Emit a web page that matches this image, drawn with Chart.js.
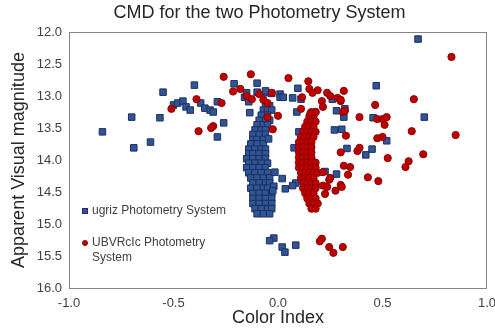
<!DOCTYPE html>
<html>
<head>
<meta charset="utf-8">
<script src="https://cdn.jsdelivr.net/npm/chart.js@4.4.1/dist/chart.umd.min.js"></script>
<style>
    html, body { margin: 0; padding: 0; background: #fff; }
    #wrap { position: relative; width: 495px; height: 331px; font-family: "Liberation Sans", Arial, sans-serif; }
    #chartTitle { position: absolute; top: 3px; left: 259.5px; transform: translateX(-50%); font-size: 18px; line-height: 18px; color: #262626; white-space: nowrap; }
    .lg-text { position: absolute; left: 92px; font-size: 12px; line-height: 15px; color: #404040; width: 140px; }
    .lg-mark { position: absolute; box-sizing: border-box; }
</style>
</head>
<body>
<div id="wrap">
    <canvas id="cmdChart" width="495" height="331"></canvas>
    <div id="chartTitle">CMD for the two Photometry System</div>
    <div class="lg-mark" style="left:82px; top:208px; width:6px; height:6px; background:#2F5597; border:1px solid #1F2F5F;"></div>
    <div class="lg-text" style="top:203px;">ugriz Photometry System</div>
    <div class="lg-mark" style="left:82px; top:240px; width:6px; height:6px; border-radius:50%; background:#C00000; border:1px solid #8B0000;"></div>
    <div class="lg-text" style="top:235px;">UBVRcIc Photometry System</div>
</div>
<script>
// --- Datos (índice de color, magnitud) ---
const xTicks = [-1.0, -0.5, 0.0, 0.5, 1.0];
const yTicks = [12.0, 12.5, 13.0, 13.5, 14.0, 14.5, 15.0, 15.5, 16.0];

// ugriz: estrellas dispersas
const ugrizScatter = [
    [0.67, 12.11], [-0.40, 12.83], [-0.21, 12.81], [-0.10, 12.80], [0.47, 12.84], [-0.55, 12.94],
    [-0.50, 13.14], [-0.48, 13.11], [-0.455, 13.08], [-0.44, 13.17], [-0.42, 13.22],
    [-0.37, 13.11], [-0.35, 13.19], [-0.325, 13.22], [-0.31, 13.25], [-0.29, 13.09],
    [-0.16, 13.02], [-0.15, 12.95], [-0.10, 12.94], [-0.055, 12.95], [-0.06, 12.92], [-0.03, 12.96],
    [0.01, 12.97], [0.01, 13.02], [0.025, 13.02], [0.095, 12.88], [0.07, 13.03], [0.11, 13.05], [0.26, 13.05],
    [-0.14, 13.09], [-0.135, 13.26],
    [-0.70, 13.33], [-0.565, 13.34], [-0.26, 13.42], [-0.84, 13.56], [-0.29, 13.64], [-0.61, 13.72], [-0.69, 13.81],
    [0.09, 13.25], [0.28, 13.23], [0.32, 13.20], [0.315, 13.33], [0.455, 13.34], [0.70, 13.33],
    [0.27, 13.53], [0.305, 13.52], [0.10, 13.56], [0.52, 13.70], [-0.045, 13.67],
    [0.33, 13.82], [0.45, 13.83], [0.42, 13.92], [0.077, 13.81],
    [0.225, 14.18], [0.28, 14.22], [0.085, 14.36], [0.07, 14.40], [0.035, 14.45], [0.02, 14.29],
    [-0.015, 14.19], [-0.02, 14.41], [-0.025, 14.48],
    [-0.02, 15.22], [-0.04, 15.26], [0.02, 15.36], [0.033, 15.44], [0.085, 15.33]
];

// ugriz: secuencia principal (banda densa)
const ugrizSequence = [
    [-0.06, 13.15], [-0.04, 13.15], [-0.07, 13.22], [-0.05, 13.22], [-0.03, 13.22], [-0.08, 13.30], [-0.05, 13.30],
    [-0.09, 13.38], [-0.06, 13.38], [-0.04, 13.38], [-0.10, 13.45], [-0.07, 13.45], [-0.05, 13.45],
    [-0.11, 13.53], [-0.08, 13.53], [-0.06, 13.53], [-0.12, 13.60], [-0.09, 13.60], [-0.06, 13.60],
    [-0.12, 13.68], [-0.10, 13.68], [-0.07, 13.68], [-0.13, 13.75], [-0.10, 13.75], [-0.07, 13.75],
    [-0.14, 13.83], [-0.11, 13.83], [-0.08, 13.83], [-0.06, 13.83],
    [-0.14, 13.90], [-0.12, 13.90], [-0.09, 13.90], [-0.06, 13.90],
    [-0.15, 13.98], [-0.12, 13.98], [-0.09, 13.98], [-0.06, 13.98],
    [-0.14, 14.05], [-0.11, 14.05], [-0.08, 14.05], [-0.05, 14.05],
    [-0.15, 14.12], [-0.12, 14.12], [-0.09, 14.12], [-0.06, 14.12],
    [-0.14, 14.20], [-0.11, 14.20], [-0.08, 14.20], [-0.05, 14.20],
    [-0.13, 14.28], [-0.10, 14.28], [-0.07, 14.28], [-0.04, 14.28],
    [-0.12, 14.36], [-0.09, 14.36], [-0.06, 14.36], [-0.04, 14.36],
    [-0.13, 14.44], [-0.10, 14.44], [-0.07, 14.44], [-0.05, 14.44],
    [-0.12, 14.52], [-0.09, 14.52], [-0.06, 14.52], [-0.03, 14.52],
    [-0.12, 14.60], [-0.09, 14.60], [-0.06, 14.60], [-0.03, 14.60],
    [-0.12, 14.68], [-0.09, 14.68], [-0.06, 14.68], [-0.03, 14.68],
    [-0.11, 14.76], [-0.08, 14.76], [-0.05, 14.76], [-0.03, 14.76],
    [-0.10, 14.84], [-0.07, 14.84], [-0.04, 14.84]
];

// UBVRcIc: estrellas dispersas
const ubvScatter = [
    [0.83, 12.39], [-0.26, 12.70], [-0.13, 12.66], [0.05, 12.72], [0.145, 12.77],
    [-0.215, 12.93], [-0.18, 12.89], [-0.39, 13.05], [-0.51, 13.20], [-0.27, 13.11],
    [-0.15, 13.00], [-0.125, 13.05], [-0.09, 12.97], [-0.07, 13.06], [-0.05, 13.11], [-0.03, 12.95],
    [-0.05, 13.33], [0.0, 13.31], [-0.31, 13.47], [-0.32, 13.50], [-0.38, 13.55], [-0.025, 13.52],
    [0.19, 12.91], [0.15, 12.89], [0.165, 12.95], [0.115, 13.02],
    [0.235, 12.95], [0.25, 13.00], [0.285, 13.03], [0.315, 12.92], [0.30, 13.08], [0.30, 13.06],
    [0.21, 13.08], [0.215, 13.17], [0.18, 13.25], [0.155, 13.27], [0.11, 13.20], [0.31, 13.25],
    [0.65, 13.05], [0.465, 13.14], [0.32, 13.23], [0.39, 13.33],
    [0.475, 13.36], [0.50, 13.36], [0.52, 13.33], [0.51, 13.45],
    [0.64, 13.55], [0.85, 13.61], [0.325, 13.62], [0.475, 13.66], [0.50, 13.64],
    [0.30, 13.88], [0.38, 13.86], [0.39, 13.81], [0.525, 13.97], [0.625, 14.02], [0.61, 14.11], [0.695, 13.91],
    [0.315, 14.09], [0.345, 14.11], [0.335, 14.23], [0.43, 14.27], [0.48, 14.33],
    [0.245, 14.31], [0.215, 14.40], [0.30, 14.39], [0.275, 14.48], [0.225, 14.53],
    [0.215, 14.19], [0.25, 14.28], [0.235, 14.42], [0.305, 14.42],
    [0.21, 15.23], [0.20, 15.27], [0.245, 15.36], [0.265, 15.45], [0.31, 15.36]
];

// UBVRcIc: secuencia principal (banda densa)
const ubvSequence = [
    [0.16, 13.25], [0.18, 13.25], [0.15, 13.32], [0.17, 13.32],
    [0.14, 13.40], [0.16, 13.40], [0.18, 13.40], [0.13, 13.48], [0.15, 13.48], [0.17, 13.48],
    [0.12, 13.56], [0.14, 13.56], [0.16, 13.56], [0.18, 13.56],
    [0.11, 13.64], [0.13, 13.64], [0.15, 13.64], [0.17, 13.64],
    [0.10, 13.72], [0.12, 13.72], [0.14, 13.72], [0.16, 13.72],
    [0.10, 13.80], [0.12, 13.80], [0.14, 13.80], [0.16, 13.80],
    [0.10, 13.88], [0.12, 13.88], [0.14, 13.88], [0.16, 13.88],
    [0.10, 13.96], [0.12, 13.96], [0.14, 13.96], [0.16, 13.96],
    [0.10, 14.04], [0.12, 14.04], [0.14, 14.04], [0.16, 14.04], [0.18, 14.04],
    [0.10, 14.12], [0.12, 14.12], [0.14, 14.12], [0.16, 14.12], [0.18, 14.12],
    [0.11, 14.20], [0.13, 14.20], [0.15, 14.20], [0.17, 14.20], [0.19, 14.20],
    [0.11, 14.28], [0.13, 14.28], [0.15, 14.28], [0.17, 14.28],
    [0.12, 14.36], [0.14, 14.36], [0.16, 14.36], [0.18, 14.36],
    [0.12, 14.44], [0.14, 14.44], [0.16, 14.44], [0.18, 14.44],
    [0.13, 14.52], [0.15, 14.52], [0.17, 14.52],
    [0.14, 14.60], [0.16, 14.60], [0.18, 14.60],
    [0.15, 14.68], [0.17, 14.68], [0.19, 14.68],
    [0.16, 14.76], [0.18, 14.76]
];

const fontFamily = '"Liberation Sans", Arial, sans-serif';
Chart.defaults.font.family = fontFamily;

const toXY = list => list.map(p => ({ x: p[0], y: p[1] }));

// --- Marco del área de trazado ---
const plotFrame = {
    id: 'plotFrame',
    beforeDatasetsDraw(chart) {
        const { ctx, chartArea: a } = chart;
        ctx.save();
        ctx.strokeStyle = '#868686';
        ctx.lineWidth = 1;
        ctx.strokeRect(Math.round(a.left) + 0.5, Math.round(a.top) + 0.5,
            Math.round(a.right - a.left) - 1, Math.round(a.bottom - a.top));
        ctx.restore();
    }
};

new Chart(document.getElementById('cmdChart'), {
    type: 'scatter',
    data: {
        datasets: [
            {
                label: 'ugriz Photometry System',
                data: toXY(ugrizSequence.concat(ugrizScatter)),
                pointStyle: 'rect', pointRadius: 4.6, borderWidth: 1,
                backgroundColor: '#2F5597', borderColor: '#1F2F5F',
                order: 2
            },
            {
                label: 'UBVRcIc Photometry System',
                data: toXY(ubvSequence.concat(ubvScatter)),
                pointStyle: 'circle', pointRadius: 3.6, borderWidth: 1,
                backgroundColor: '#C00000', borderColor: '#8B0000',
                order: 1
            }
        ]
    },
    options: {
        responsive: false,
        animation: false,
        events: [],
        layout: { padding: { top: 32, right: 8, left: 0, bottom: 0 } },
        plugins: { legend: { display: false }, title: { display: false }, tooltip: { enabled: false } },
        scales: {
            x: {
                type: 'linear', min: -1, max: 1,
                afterBuildTicks: s => { s.ticks = xTicks.map(v => ({ value: v })); },
                ticks: { callback: v => v.toFixed(1), font: { size: 13 }, color: '#404040', padding: 8, maxRotation: 0 },
                grid: { display: false, drawTicks: false },
                border: { display: false },
                title: { display: true, text: 'Color Index', font: { size: 18 }, color: '#262626', padding: { top: 0, bottom: 2 } },
                afterFit: s => { s.height = 43; s.paddingLeft = 0; s.paddingRight = 0; }
            },
            y: {
                type: 'linear', min: 12, max: 16, reverse: true,
                afterBuildTicks: s => { s.ticks = yTicks.map(v => ({ value: v })); },
                ticks: { callback: v => v.toFixed(1), font: { size: 13 }, color: '#404040', padding: 7 },
                grid: { display: false, drawTicks: false },
                border: { display: false },
                title: { display: true, text: 'Apparent Visual magnitude', font: { size: 18 }, color: '#262626', padding: { top: 8, bottom: 0 } },
                afterFit: s => { s.width = 69; s.paddingTop = 0; s.paddingBottom = 0; }
            }
        }
    },
    plugins: [plotFrame]
});
</script>
</body>
</html>
